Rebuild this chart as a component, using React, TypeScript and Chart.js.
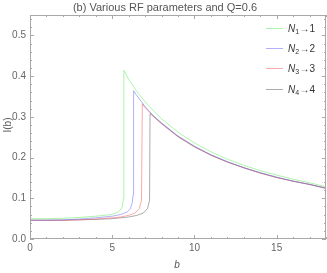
import React, { useEffect, useRef } from "react";
import { Chart, registerables } from "chart.js";

Chart.register(...registerables);

const bGreen = [0, 1, 2, 3, 4, 4.5, 5, 5.3, 5.5, 5.62, 5.68, 5.71, 6, 6.5, 7, 7.5, 8, 9, 10, 11, 12, 13, 14, 15, 16, 17, 18];
const iGreen = [0.05, 0.05, 0.051, 0.053, 0.056, 0.058, 0.061, 0.065, 0.071, 0.08, 0.1, 0.414, 0.392, 0.362, 0.337, 0.315, 0.295, 0.262, 0.236, 0.214, 0.196, 0.181, 0.168, 0.157, 0.147, 0.138, 0.128];

const bBlue = [0, 1, 2, 3, 4, 5, 5.5, 5.9, 6.1, 6.22, 6.28, 6.3, 6.5, 7, 7.5, 8, 9, 10, 11, 12, 13, 14, 15, 16, 17, 18];
const iBlue = [0.046, 0.046, 0.047, 0.049, 0.052, 0.056, 0.06, 0.066, 0.074, 0.09, 0.11, 0.364, 0.352, 0.325, 0.303, 0.285, 0.253, 0.228, 0.207, 0.19, 0.175, 0.163, 0.152, 0.142, 0.134, 0.125];

const bRed = [0, 1, 2, 3, 4, 5, 5.5, 6, 6.4, 6.65, 6.78, 6.83, 7, 7.5, 8, 9, 10, 11, 12, 13, 14, 15, 16, 17, 18];
const iRed = [0.046, 0.046, 0.046, 0.047, 0.049, 0.052, 0.054, 0.058, 0.064, 0.075, 0.095, 0.332, 0.322, 0.302, 0.284, 0.252, 0.227, 0.206, 0.189, 0.175, 0.162, 0.151, 0.142, 0.134, 0.125];

const bBlack = [0, 1, 2, 3, 4, 5, 6, 6.5, 6.9, 7.15, 7.27, 7.3, 7.5, 8, 9, 10, 11, 12, 13, 14, 15, 16, 17, 18];
const iBlack = [0.046, 0.046, 0.046, 0.047, 0.048, 0.05, 0.054, 0.058, 0.064, 0.075, 0.095, 0.308, 0.301, 0.283, 0.251, 0.226, 0.206, 0.189, 0.175, 0.162, 0.151, 0.142, 0.134, 0.124];

const xTicks = [0, 5, 10, 15];
const yTicks = [0, 0.1, 0.2, 0.3, 0.4, 0.5];
const legendSubs = ["1", "2", "3", "4"];
const legendVals = ["1", "2", "3", "4"];
const colors = ["rgba(90,235,90,0.5)", "rgba(100,100,240,0.5)", "rgba(245,90,90,0.5)", "rgba(90,90,90,0.5)"];

const pts = (xs: number[], ys: number[]) => xs.map((x, i) => ({ x, y: ys[i] }));

export default function App() {
  const ref = useRef<HTMLCanvasElement | null>(null);
  useEffect(() => {
    document.body.style.margin = "0";
    const frame = "#a8a8a8";
    const decor = {
      id: "decor",
      afterDraw(chart: any) {
        const ctx = chart.ctx;
        const a = chart.chartArea;
        const xs = chart.scales.x;
        const ys = chart.scales.y;
        ctx.save();
        ctx.strokeStyle = frame;
        ctx.lineWidth = 1;
        ctx.strokeRect(Math.round(a.left) + 0.5, Math.round(a.top) + 0.5, Math.round(a.right - a.left) - 1, Math.round(a.bottom - a.top) - 1);
        ctx.beginPath();
        for (let v = 0; v <= 18; v += 1) {
          const px = Math.round(xs.getPixelForValue(v)) + 0.5;
          const len = v % 5 === 0 ? 4 : 2;
          ctx.moveTo(px, a.bottom); ctx.lineTo(px, a.bottom - len);
          ctx.moveTo(px, a.top); ctx.lineTo(px, a.top + len);
        }
        for (let k = 0; k <= 27; k++) {
          const v = k * 0.02;
          const py = Math.round(ys.getPixelForValue(v)) + 0.5;
          const len = k % 5 === 0 ? 4 : 2;
          ctx.moveTo(a.left, py); ctx.lineTo(a.left + len, py);
          ctx.moveTo(a.right, py); ctx.lineTo(a.right - len, py);
        }
        ctx.stroke();
        // title
        ctx.fillStyle = "#555";
        ctx.font = "11px 'Liberation Sans', Arial, sans-serif";
        ctx.textAlign = "center";
        ctx.textBaseline = "middle";
        ctx.fillText("(b) Various RF parameters and Q=0.6", 165, 8);
        // axis labels
        ctx.font = "italic 10px 'Liberation Sans', Arial, sans-serif";
        ctx.fillText("b", 177, 265);
        ctx.save();
        ctx.translate(8, 125);
        ctx.rotate(-Math.PI / 2);
        ctx.font = "10px 'Liberation Sans', Arial, sans-serif";
        ctx.fillText("I(b)", 0, 0);
        ctx.restore();
        // legend
        const rows = [28, 48, 68, 89];
        rows.forEach((y, i) => {
          ctx.strokeStyle = colors[i];
          ctx.beginPath();
          ctx.moveTo(266, y + 0.5);
          ctx.lineTo(283, y + 0.5);
          ctx.stroke();
          ctx.fillStyle = "#333";
          ctx.textAlign = "left";
          ctx.textBaseline = "alphabetic";
          let x = 288;
          ctx.font = "italic 10px 'Liberation Sans', Arial, sans-serif";
          ctx.fillText("N", x, y + 4);
          x += ctx.measureText("N").width;
          ctx.font = "7px 'Liberation Sans', Arial, sans-serif";
          ctx.fillText(legendSubs[i], x, y + 6);
          x += ctx.measureText(legendSubs[i]).width + 0.5;
          ctx.font = "10px 'Liberation Sans', Arial, sans-serif";
          ctx.fillText("\u2192" + legendVals[i], x, y + 4);
        });
        ctx.restore();
      },
    };
    const mk = (xs: number[], ys: number[], c: string) => ({
      data: pts(xs, ys),
      borderColor: c,
      borderWidth: 1,
      pointRadius: 0,
      fill: false,
      tension: 0,
    });
    const chart = new Chart(ref.current as HTMLCanvasElement, {
      type: "line",
      data: {
        datasets: [
          mk(bGreen, iGreen, colors[0]),
          mk(bBlue, iBlue, colors[1]),
          mk(bRed, iRed, colors[2]),
          mk(bBlack, iBlack, colors[3]),
        ],
      },
      plugins: [decor],
      options: {
        animation: false,
        responsive: false,
        layout: { padding: { top: 15, right: 1, left: 0, bottom: 0 } },
        plugins: { legend: { display: false }, tooltip: { enabled: false }, title: { display: false } },
        scales: {
          x: {
            type: "linear",
            min: 0,
            max: 18,
            grid: { display: false, drawTicks: false },
            border: { display: false },
            afterBuildTicks: (s: any) => { s.ticks = xTicks.map((v) => ({ value: v })); },
            afterFit: (s: any) => { s.height = 34; },
            ticks: { color: "#666", font: { size: 10, family: "'Liberation Sans', Arial, sans-serif" }, padding: 3, maxRotation: 0, autoSkip: false, callback: (v: any) => String(v) },
          },
          y: {
            type: "linear",
            min: 0,
            max: 0.55,
            grid: { display: false, drawTicks: false },
            border: { display: false },
            afterBuildTicks: (s: any) => { s.ticks = yTicks.map((v) => ({ value: v })); },
            afterFit: (s: any) => { s.width = 30; },
            ticks: { color: "#666", font: { size: 10, family: "'Liberation Sans', Arial, sans-serif" }, padding: 4, autoSkip: false, callback: (v: any) => Number(v).toFixed(1) },
          },
        },
      },
    } as any);
    return () => chart.destroy();
  }, []);
  return (
    <div style={{ width: 327, height: 273 }}>
      <canvas ref={ref} width={327} height={273} style={{ display: "block" }} />
    </div>
  );
}
